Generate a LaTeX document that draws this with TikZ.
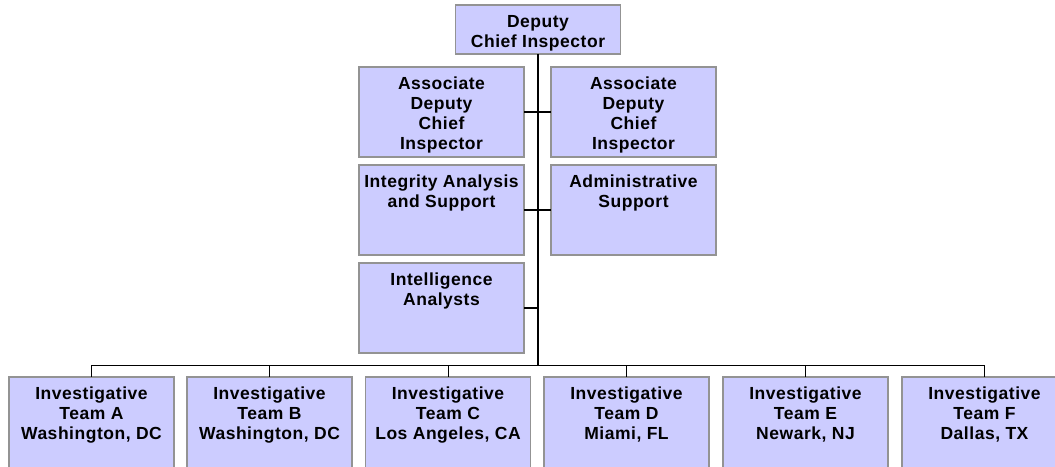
\documentclass[tikz,border=0pt]{standalone}
\usepackage{fontspec}
\setmainfont{Liberation Sans}
\newfontfamily\boxfont{Liberation Sans}[LetterSpace=3]
\definecolor{boxfill}{HTML}{CCCCFF}
\definecolor{boxline}{HTML}{939393}
\begin{document}
\begin{tikzpicture}[x=1pt,y=-1pt,
  unitbox/.style={draw=boxline, line width=1.1pt, fill=boxfill, minimum width=165pt, inner sep=0pt, outer sep=0pt},
  txt/.style={anchor=north, align=center, inner sep=0pt, font=\boxfont\fontsize{17.5}{20}\selectfont\bfseries},
  conn/.style={draw=black, line width=1.6pt},
  thin/.style={draw=black, line width=1pt}]
\useasboundingbox (0,0) rectangle (1055,466);
\clip (0,0) rectangle (1055,466);
\fill[white] (0,0) rectangle (1055,466);
% boxes
\node[unitbox, minimum height=49pt] (top) at (538,29.5) {};
\node[unitbox, minimum height=90pt] (al) at (441.5,112) {};
\node[unitbox, minimum height=90pt] (ar) at (633.5,112) {};
\node[unitbox, minimum height=90pt] (ia) at (441.5,210) {};
\node[unitbox, minimum height=90pt] (as) at (633.5,210) {};
\node[unitbox, minimum height=90pt] (il) at (441.5,308) {};
\node[unitbox, minimum height=100pt] (ta) at (91.5,427) {};
\node[unitbox, minimum height=100pt] (tb) at (269.5,427) {};
\node[unitbox, minimum height=100pt] (tc) at (448,427) {};
\node[unitbox, minimum height=100pt] (td) at (626.5,427) {};
\node[unitbox, minimum height=100pt] (te) at (805.5,427) {};
\node[unitbox, minimum height=100pt] (tf) at (984.5,427) {};
% texts
\node[txt] (topt) at ([yshift=-10]top.north) {Deputy\\Chief Inspector};
\node[txt] (alt) at ([yshift=-10]al.north) {Associate\\Deputy\\Chief\\Inspector};
\node[txt] (art) at ([yshift=-10]ar.north) {Associate\\Deputy\\Chief\\Inspector};
\node[txt] (iat) at ([yshift=-10]ia.north) {Integrity Analysis\\and Support};
\node[txt] (ast) at ([yshift=-10]as.north) {Administrative\\Support};
\node[txt] (ilt) at ([yshift=-10]il.north) {Intelligence\\Analysts};
\node[txt] (tat) at ([yshift=-10]ta.north) {Investigative\\Team A\\Washington, DC};
\node[txt] (tbt) at ([yshift=-10]tb.north) {Investigative\\Team B\\Washington, DC};
\node[txt] (tct) at ([yshift=-10]tc.north) {Investigative\\Team C\\Los Angeles, CA};
\node[txt] (tdt) at ([yshift=-10]td.north) {Investigative\\Team D\\Miami, FL};
\node[txt] (tet) at ([yshift=-10]te.north) {Investigative\\Team E\\Newark, NJ};
\node[txt] (tft) at ([yshift=-10]tf.north) {Investigative\\Team F\\Dallas, TX};
% connectors
\coordinate (bus) at (538,365);
\coordinate (ilj) at (538,308);
\path[conn] (top.south) -- (bus);
\path[conn] (al.east) -- (ar.west);
\path[conn] (ia.east) -- (as.west);
\path[conn] (il.east) -- (ilj);
\foreach \t in {ta,tb,tc,td,te,tf}{
  \path[thin] (bus) -| (\t.north);
}
\end{tikzpicture}
\end{document}
